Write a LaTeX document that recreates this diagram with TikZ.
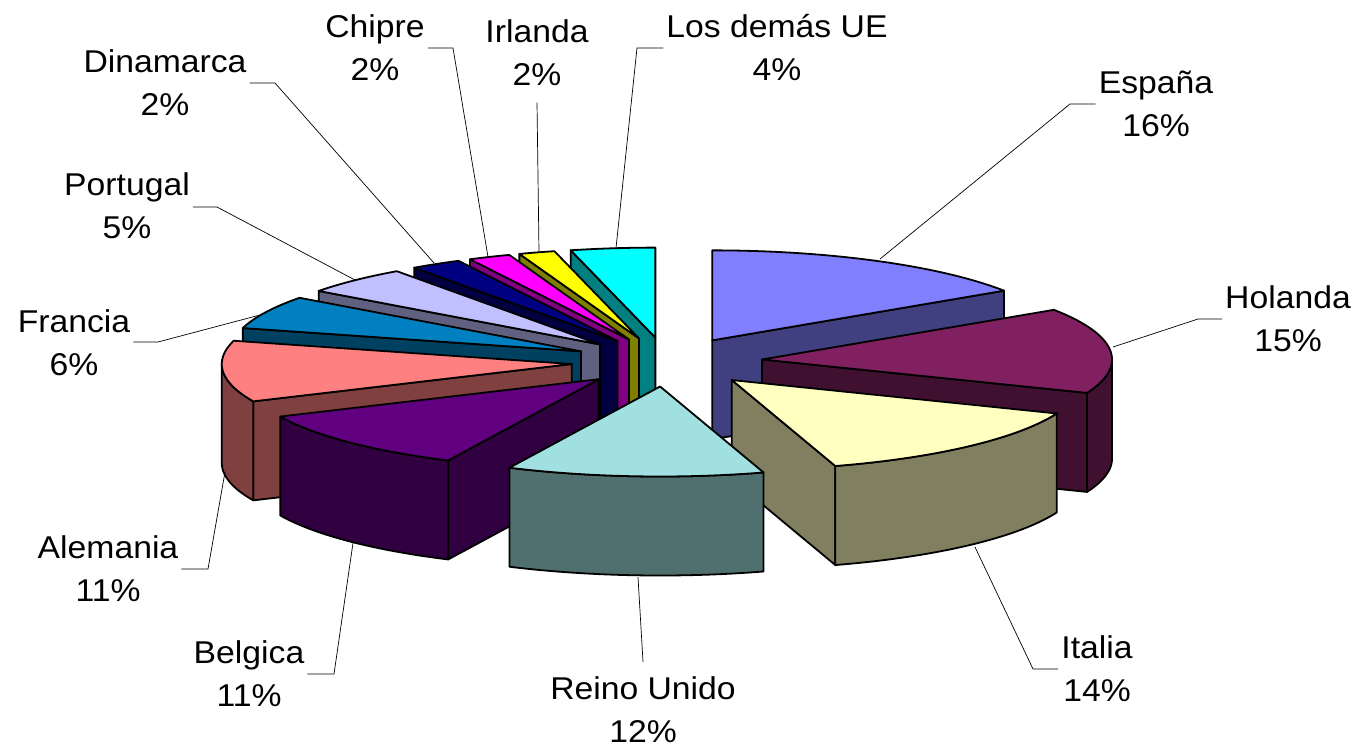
\documentclass[tikz,border=0pt]{standalone}
\usepackage{fontspec}
\setmainfont{Liberation Sans}[FakeStretch=1.07]
\definecolor{espT}{HTML}{8080FF}\definecolor{espS}{HTML}{404080}
\definecolor{holT}{HTML}{802060}\definecolor{holS}{HTML}{401030}
\definecolor{itaT}{HTML}{FFFFC0}\definecolor{itaS}{HTML}{808060}
\definecolor{ruT}{HTML}{A0E0E0}\definecolor{ruS}{HTML}{507070}
\definecolor{belT}{HTML}{600080}\definecolor{belS}{HTML}{300040}
\definecolor{aleT}{HTML}{FF8080}\definecolor{aleS}{HTML}{804040}
\definecolor{fraT}{HTML}{0080C0}\definecolor{fraS}{HTML}{004060}
\definecolor{porT}{HTML}{C0C0FF}\definecolor{porS}{HTML}{606080}
\definecolor{dinT}{HTML}{000080}\definecolor{dinS}{HTML}{000040}
\definecolor{chiT}{HTML}{FF00FF}\definecolor{chiS}{HTML}{800080}
\definecolor{irlT}{HTML}{FFFF00}\definecolor{irlS}{HTML}{808000}
\definecolor{losT}{HTML}{00FFFF}\definecolor{losS}{HTML}{008080}
\def\Cx{667}\def\Cy{362}\def\Rx{350}\def\Ry{90}\def\Hh{99}\def\Ee{0.273}
\newcommand{\setvertex}[2]{%
  \pgfmathsetmacro{\pmid}{(#1+#2)/2}%
  \pgfmathsetmacro{\pvx}{\Cx+\Ee*\Rx*sin(\pmid)}%
  \pgfmathsetmacro{\pvy}{\Cy-\Ee*\Ry*cos(\pmid)}%
}
\newcommand{\ptop}[3]{%
  \filldraw[face, fill=#3] (\pvx,\pvy) -- plot[domain=#1:#2, samples=60, variable=\t] ({\pvx+\Rx*sin(\t)},{\pvy-\Ry*cos(\t)}) -- cycle;}
\newcommand{\pradial}[2]{%
  \filldraw[face, fill=#2] (\pvx,\pvy) -- ({\pvx+\Rx*sin(#1)},{\pvy-\Ry*cos(#1)}) -- ({\pvx+\Rx*sin(#1)},{\pvy+\Hh-\Ry*cos(#1)}) -- (\pvx,{\pvy+\Hh}) -- cycle;}
\newcommand{\pwall}[3]{%
  \filldraw[face, fill=#3] plot[domain=#1:#2, samples=40, variable=\t] ({\pvx+\Rx*sin(\t)},{\pvy-\Ry*cos(\t)}) -- plot[domain=#2:#1, samples=40, variable=\t] ({\pvx+\Rx*sin(\t)},{\pvy+\Hh-\Ry*cos(\t)}) -- cycle;}
\begin{document}
\begin{tikzpicture}[x=1pt,y=-1pt,
  face/.style={draw=black, line width=1.8pt, line join=round},
  lbl/.style={font=\fontsize{31.5}{43}\selectfont, align=center, inner xsep=3pt, inner ysep=0pt},
  leader/.style={draw=black, line width=0.7pt}]
\useasboundingbox (0,0) rectangle (1357,749);
% Los demas UE
\setvertex{346}{360}
\pradial{346}{losS}
\ptop{346}{360}{losT}
% Irlanda
\setvertex{340}{346}
\pradial{340}{irlS}
\ptop{340}{346}{irlT}
% Chipre
\setvertex{333}{340}
\pradial{333}{chiS}
\ptop{333}{340}{chiT}
% Espana
\setvertex{0}{56.5}
\pradial{56.5}{espS}
\ptop{0}{56.5}{espT}
% Dinamarca
\setvertex{324.5}{333}
\pradial{324.5}{dinS}
\ptop{324.5}{333}{dinT}
% Portugal
\setvertex{306.5}{324.5}
\pradial{306.5}{porS}
\ptop{306.5}{324.5}{porT}
% Francia
\setvertex{285}{306.5}
\pradial{285}{fraS}
\ptop{285}{306.5}{fraT}
% Holanda
\setvertex{56.5}{111.8}
\pradial{111.8}{holS}
\pwall{90}{111.8}{holS}
\ptop{56.5}{111.8}{holT}
% Alemania
\setvertex{245.5}{285}
\pradial{245.5}{aleS}
\pwall{245.5}{270}{aleS}
\ptop{245.5}{285}{aleT}
% Belgica
\setvertex{205.5}{245.5}
\pradial{205.5}{belS}
\pwall{205.5}{245.5}{belS}
\ptop{205.5}{245.5}{belT}
% Italia
\setvertex{111.8}{162.8}
\pradial{162.8}{itaS}
\pwall{111.8}{162.8}{itaS}
\ptop{111.8}{162.8}{itaT}
% Reino Unido
\setvertex{162.8}{205.5}
\pwall{162.8}{205.5}{ruS}
\ptop{162.8}{205.5}{ruT}

% labels
\node[lbl] (lLos) at (777,47.5) {Los demás UE\\4\%};
\node[lbl] (lEsp) at (1156,103.5) {España\\16\%};
\node[lbl] (lHol) at (1288,318.5) {Holanda\\15\%};
\node[lbl] (lIta) at (1097,669) {Italia\\14\%};
\node[lbl] (lRU) at (643,710) {Reino Unido\\12\%};
\node[lbl] (lBel) at (249,674) {Belgica\\11\%};
\node[lbl] (lAle) at (108,569) {Alemania\\11\%};
\node[lbl] (lFra) at (74,342.5) {Francia\\6\%};
\node[lbl] (lPor) at (127,205.5) {Portugal\\5\%};
\node[lbl] (lDin) at (165,83) {Dinamarca\\2\%};
\node[lbl] (lChi) at (375,47.5) {Chipre\\2\%};
\node[lbl] (lIrl) at (537,52.5) {Irlanda\\2\%};

% leader anchor points
\coordinate (pLos) at (616,248); \coordinate (kLos) at (637,48);
\coordinate (pEsp) at (880,259); \coordinate (kEsp) at (1070,104);
\coordinate (pHol) at (1113,347); \coordinate (kHol) at (1198,319);
\coordinate (pIta) at (975,547); \coordinate (kIta) at (1033,669);
\coordinate (pRU) at (638,577);
\coordinate (pBel) at (353,543); \coordinate (kBel) at (334,674);
\coordinate (pAle) at (225,472); \coordinate (kAle) at (208,569);
\coordinate (pFra) at (260,315); \coordinate (kFra) at (158,342);
\coordinate (pPor) at (355,280); \coordinate (kPor) at (217,207);
\coordinate (pDin) at (434,263); \coordinate (kDin) at (275,83);
\coordinate (pChi) at (488,257); \coordinate (kChi) at (453,48);
\coordinate (pIrl) at (539,252);

\draw[leader] (pLos) -- (kLos) -- (lLos.west |- kLos);
\draw[leader] (pEsp) -- (kEsp) -- (lEsp.west |- kEsp);
\draw[leader] (pHol) -- (kHol) -- (lHol.west |- kHol);
\draw[leader] (pIta) -- (kIta) -- (lIta.west |- kIta);
\draw[leader] (pRU) -- ([yshift=15pt]lRU.north);
\draw[leader] (pBel) -- (kBel) -- (lBel.east |- kBel);
\draw[leader] (pAle) -- (kAle) -- (lAle.east |- kAle);
\draw[leader] (pFra) -- (kFra) -- (lFra.east |- kFra);
\draw[leader] (pPor) -- (kPor) -- (lPor.east |- kPor);
\draw[leader] (pDin) -- (kDin) -- (lDin.east |- kDin);
\draw[leader] (pChi) -- (kChi) -- (lChi.east |- kChi);
\draw[leader] (pIrl) -- ([yshift=-17pt]lIrl.south);
\end{tikzpicture}
\end{document}
